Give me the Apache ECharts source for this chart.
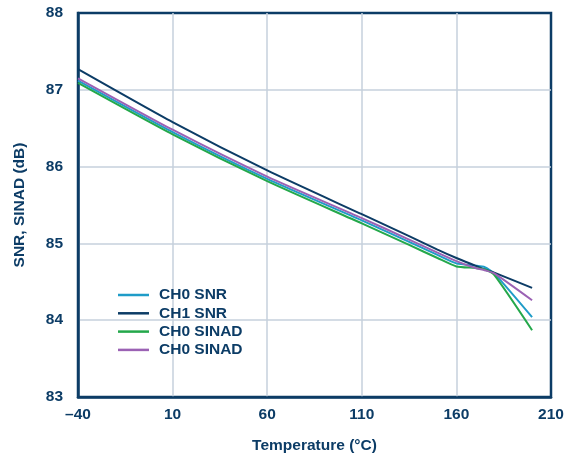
<!DOCTYPE html>
<html>
<head>
<meta charset="utf-8">
<style>html,body{margin:0;padding:0;background:#fff;}#c{width:570px;height:454px;}</style>
<script src="https://cdn.jsdelivr.net/npm/echarts@6/dist/echarts.min.js"></script>
</head>
<body>
<div id="c"></div>
<script>
var temps = [-40, 10, 60, 110, 135, 150, 160, 170, 175, 180, 200];
var ch0Snr = [87.12, 86.45, 85.84, 85.30, 85.02, 84.85, 84.74, 84.71, 84.69, 84.61, 84.04];
var ch1Snr = [87.27, 86.58, 85.95, 85.38, 85.095, 84.92, 84.81, 84.71, 84.66, 84.62, 84.42];
var ch0Sinad = [87.09, 86.42, 85.81, 85.26, 84.98, 84.81, 84.70, 84.68, 84.66, 84.59, 83.87];
var ch0Sinad2 = [87.15, 86.48, 85.87, 85.33, 85.05, 84.88, 84.77, 84.68, 84.65, 84.61, 84.26];
var seriesNames = ['CH0 SNR', 'CH1 SNR', 'CH0 SINAD', 'CH0 SINAD '];
var seriesColors = ['#1f9cc8', '#0c3c66', '#24a84b', '#9b62b4'];
var xTicks = { min: -40, max: 210, step: 50 };
var yTicks = { min: 83, max: 88, step: 1 };

function pairs(v) { return temps.map(function (t, i) { return [t, v[i]]; }); }
var allValues = [ch0Snr, ch1Snr, ch0Sinad, ch0Sinad2];
var navy = '#0c3c66';
var font = '"Liberation Sans", Arial, sans-serif';
var fs = 15.5;

var chart = echarts.init(document.getElementById('c'), null, { renderer: 'canvas' });
chart.setOption({
  animation: false,
  grid: { left: 78, right: 19, top: 13, bottom: 57, outerBoundsMode: 'none', containLabel: false,
    show: true, borderColor: navy, borderWidth: 2.5, backgroundColor: 'transparent' },
  legend: {
    orient: 'vertical', left: 118, top: 287, padding: 0,
    itemWidth: 31, itemHeight: 2.5, itemGap: 2.3, icon: 'rect',
    data: seriesNames,
    textStyle: { color: navy, fontFamily: font, fontWeight: 'bold', fontSize: fs, lineHeight: 16, padding: [0, 0, 0, 5] }
  },
  xAxis: {
    type: 'value', min: xTicks.min, max: xTicks.max, interval: xTicks.step,
    name: 'Temperature (°C)', nameLocation: 'middle', nameGap: 41,
    nameTextStyle: { color: navy, fontFamily: font, fontWeight: 'bold', fontSize: fs },
    axisLine: { show: true, onZero: false, lineStyle: { color: navy, width: 2.5 } },
    axisTick: { show: false },
    axisLabel: { color: navy, fontFamily: font, fontWeight: 'bold', fontSize: fs, margin: 10,
      formatter: function (v) { return String(v).replace('-', '\u2013'); } },
    splitLine: { show: true, showMinLine: false, showMaxLine: false, lineStyle: { color: '#c6d1dd', width: 1.5 } }
  },
  yAxis: {
    type: 'value', min: yTicks.min, max: yTicks.max, interval: yTicks.step,
    name: 'SNR, SINAD (dB)', nameLocation: 'middle', nameGap: 50, nameRotate: 90,
    nameTextStyle: { color: navy, fontFamily: font, fontWeight: 'bold', fontSize: fs },
    axisLine: { show: true, onZero: false, lineStyle: { color: navy, width: 2.5 } },
    axisTick: { show: false },
    axisLabel: { color: navy, fontFamily: font, fontWeight: 'bold', fontSize: fs, margin: 15 },
    splitLine: { show: true, showMinLine: false, showMaxLine: false, lineStyle: { color: '#c6d1dd', width: 1.5 } }
  },
  series: seriesNames.map(function (n, i) {
    return {
      name: n, type: 'line', data: pairs(allValues[i]), symbol: 'none', smooth: 0.2,
      color: seriesColors[i],
      lineStyle: { color: seriesColors[i], width: 2 }
    };
  })
});
</script>
</body>
</html>
